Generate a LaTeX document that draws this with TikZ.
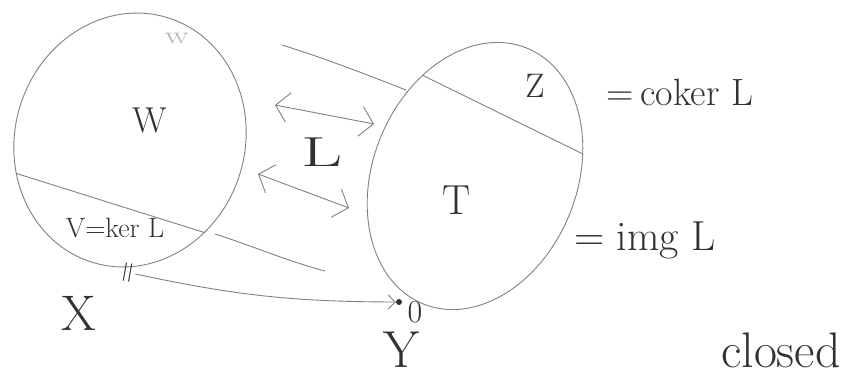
\documentclass[tikz,border=0pt]{standalone}
\usepackage{fontspec}
\usetikzlibrary{arrows.meta}
\definecolor{pencil}{RGB}{130,130,130}
\definecolor{ink}{RGB}{50,50,50}
\tikzset{
  sketch/.style={draw=pencil, line width=0.9pt, line cap=round, line join=round},
  twoway/.style={sketch, {Straight Barb[length=13pt,width=30pt]}-{Straight Barb[length=13pt,width=30pt]}},
  lbl/.style={text=ink, inner sep=0pt},
}
\newcommand{\fs}[1]{\fontsize{#1}{#1}\selectfont}
\begin{document}
\begin{tikzpicture}[x=1pt,y=-1pt]
\useasboundingbox[fill=white] (0,0) rectangle (862,378);
% left ellipse W
\coordinate (cW) at (130,140);
\draw[sketch, rotate around={-17:(cW)}] (cW) ellipse [x radius=115, y radius=128];
\begin{scope}
  \clip[rotate around={-17:(cW)}] (cW) ellipse [x radius=115, y radius=128];
  \draw[sketch] (-20,162) -- (260,250);
\end{scope}
% right ellipse T
\coordinate (cT) at (475,176);
\draw[sketch, rotate around={-22:(cT)}] (cT) ellipse [x radius=102, y radius=138];
\begin{scope}
  \clip[rotate around={-22:(cT)}] (cT) ellipse [x radius=102, y radius=138];
  \draw[sketch] (420,74) -- (640,182);
\end{scope}
% lines between the two sets
\coordinate (u1) at (282,45); \coordinate (u2) at (406,90);
\draw[sketch] (u1) .. controls (330,60) and (370,76) .. (u2);
\coordinate (l1) at (215,234); \coordinate (l2) at (325,271);
\draw[sketch] (l1) .. controls (250,245) and (290,262) .. (l2);
% double arrows
\coordinate (a1) at (275,105); \coordinate (a2) at (374,124);
\draw[twoway] (a1) -- (a2);
\coordinate (b1) at (258,174); \coordinate (b2) at (349,208);
\draw[twoway] (b1) -- (b2);
% labels
\node[lbl, text=pencil!60, xscale=1.5] (wsmall) at (177,38) {\fs{24}w};
\node[lbl] (W) at (150,120) {\fs{36}W};
\node[lbl] (V) at (115,228) {\fs{28}V=ker L};
\node[lbl] (Z) at (535,86) {\fs{34}Z};
\node[lbl] (coker) at (680,92) {\fs{38}=\,coker L};
\node[lbl] (T) at (457,200) {\fs{42}T};
\node[lbl] (img) at (645,240) {\fs{42}= img L};
\node[lbl, xscale=1.7] (L) at (322,152) {\fs{42}L};
\node[lbl] (X) at (79,313) {\fs{50}X};
\node[lbl, rotate=80] (eq) at (130,273) {\fs{30}=};
\node[circle, fill=ink, inner sep=0pt, minimum size=6pt] (dot) at (399,302) {};
\node[lbl] (zero) at (415,312) {\fs{32}0};
\node[lbl] (Y) at (402,350) {\fs{52}Y};
\node[lbl] (closed) at (781,350) {\fs{50}closed};
% arrow from ker to 0
\draw[sketch, -{Straight Barb[length=7pt,width=14pt]}] (eq.south) to[bend right=6] (dot.west);
\end{tikzpicture}
\end{document}
